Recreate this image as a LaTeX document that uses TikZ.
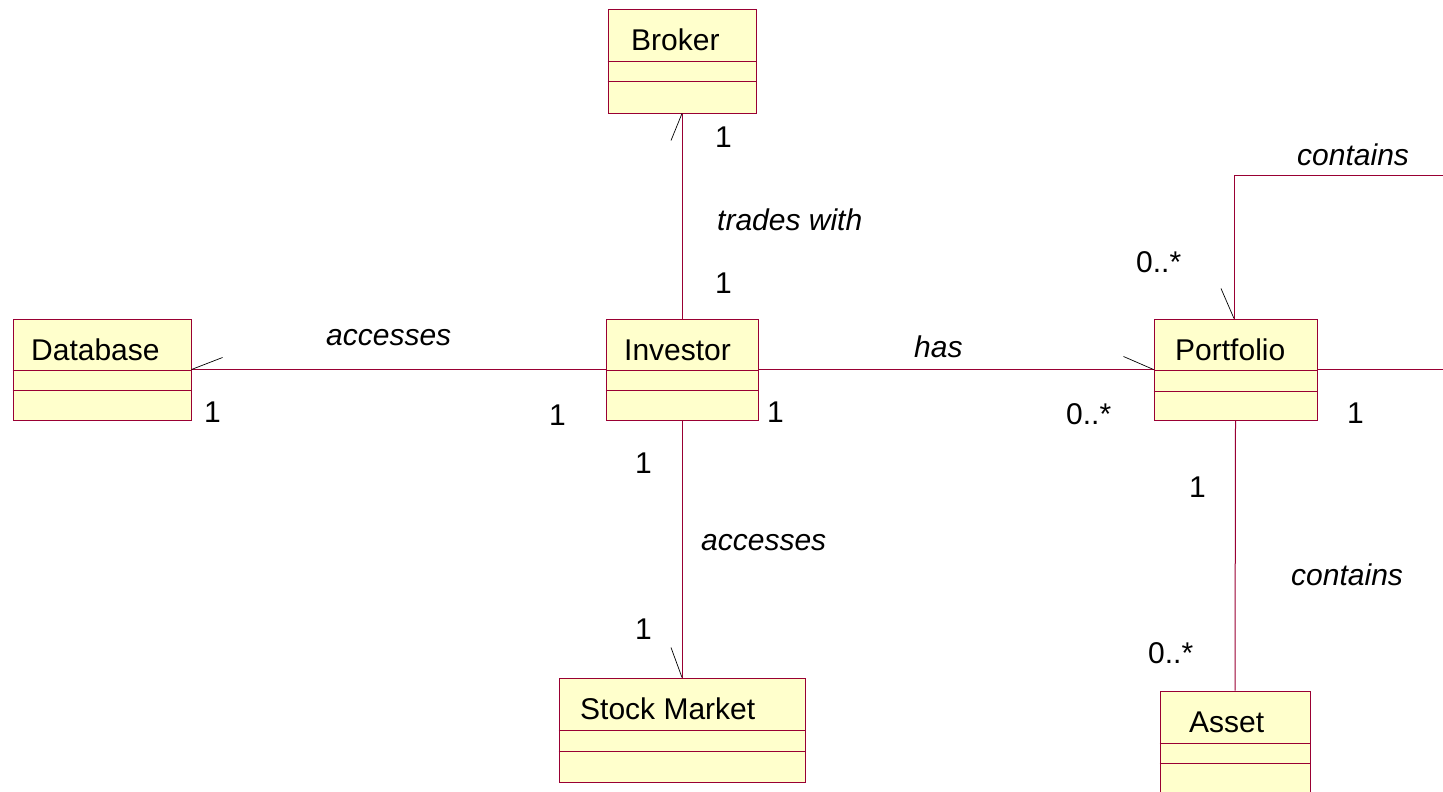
\documentclass[tikz,border=0pt]{standalone}
\usepackage{fontspec}
\setmainfont{Liberation Sans}
\begin{document}
\begin{tikzpicture}[x=1pt,y=-1pt,
  cls/.style={draw=umlred, fill=umlfill, line width=1pt, inner sep=0pt},
  div/.style={draw=umlred, line width=1pt},
  assoc/.style={draw=umlred, line width=1pt},
  tick/.style={draw=black, line width=0.7pt},
  cname/.style={anchor=base west, inner sep=0pt, font=\fontsize{30}{36}\selectfont},
  mult/.style={anchor=base west, inner sep=0pt, font=\fontsize{30}{36}\selectfont},
  role/.style={anchor=base west, inner sep=0pt, font=\fontsize{30}{36}\selectfont\itshape}]
\definecolor{umlred}{HTML}{990033}
\definecolor{umlfill}{HTML}{FFFFCC}
\useasboundingbox (0,0) rectangle (1443,792);
\clip (0,0) rectangle (1443,792);

% class boxes
\node[cls, minimum width=148pt, minimum height=103pt] (broker) at (682,61.5) {};
\node[cls, minimum width=178pt, minimum height=101pt] (database) at (102,369.5) {};
\node[cls, minimum width=152pt, minimum height=101pt] (investor) at (682,369.5) {};
\node[cls, minimum width=163pt, minimum height=101pt] (portfolio) at (1235.5,369.5) {};
\node[cls, minimum width=246pt, minimum height=104pt] (stock) at (682,730) {};
\node[cls, minimum width=150pt, minimum height=110pt] (asset) at (1235,746) {};

% compartment dividers
\foreach \n/\a/\b in {broker/52/72, database/52/72, investor/52/72,
                      portfolio/52/73, stock/53/74, asset/53/73}{
  \draw[div] ([yshift=-\a pt]\n.north west) -- ([yshift=-\a pt]\n.north east);
  \draw[div] ([yshift=-\b pt]\n.north west) -- ([yshift=-\b pt]\n.north east);
}

% class names
\node[cname] (tbroker) at (631,51) {Broker};
\node[cname] (tdatabase) at (31,360) {Database};
\node[cname] (tinvestor) at (624,360) {Investor};
\node[cname] (tportfolio) at (1175,360) {Portfolio};
\node[cname] (tstock) at (580,719) {Stock Market};
\node[cname] (tasset) at (1189,732) {Asset};

% associations
\draw[assoc] (broker.south) -- (investor.north);
\draw[assoc] (database.east) -- (investor.west);
\draw[assoc] (investor.east) -- (portfolio.west);
\draw[assoc] (investor.south) -- (stock.north);
\draw[assoc] (portfolio.south) -- (asset.north);
\coordinate (loopTop) at (1443,175);
\coordinate (loopEnd) at (1443,369.5);
\draw[assoc] ([xshift=-1.5pt]portfolio.north) |- (loopTop);
\draw[assoc] (portfolio.east) -- (loopEnd);

% end ticks
\draw[tick] (broker.south) -- ++(-11,27);
\draw[tick] (database.east) -- ++(31,-12);
\draw[tick] (portfolio.west) -- ++(-30,-13);
\draw[tick] (stock.north) -- ++(-11,-30);
\draw[tick] ([xshift=-1.5pt]portfolio.north) -- ++(-13,-30);

% multiplicities
\node[mult] (m1) at (715,147) {1};
\node[mult] (m2) at (715,293) {1};
\node[mult] (m3) at (204,422) {1};
\node[mult] (m4) at (549,425) {1};
\node[mult] (m5) at (767,422) {1};
\node[mult] (m6) at (1066,424) {0..*};
\node[mult] (m7) at (635,473) {1};
\node[mult] (m8) at (635,639) {1};
\node[mult] (m9) at (1136,272) {0..*};
\node[mult] (m10) at (1347,423) {1};
\node[mult] (m11) at (1189,497) {1};
\node[mult] (m12) at (1148,663) {0..*};

% association names
\node[role] (rtrades) at (717,230) {trades with};
\node[role] (racc1) at (326,345) {accesses};
\node[role] (rhas) at (914,357) {has};
\node[role] (racc2) at (701,550) {accesses};
\node[role] (rcont1) at (1297,165) {contains};
\node[role] (rcont2) at (1291,585) {contains};
\end{tikzpicture}
\end{document}
